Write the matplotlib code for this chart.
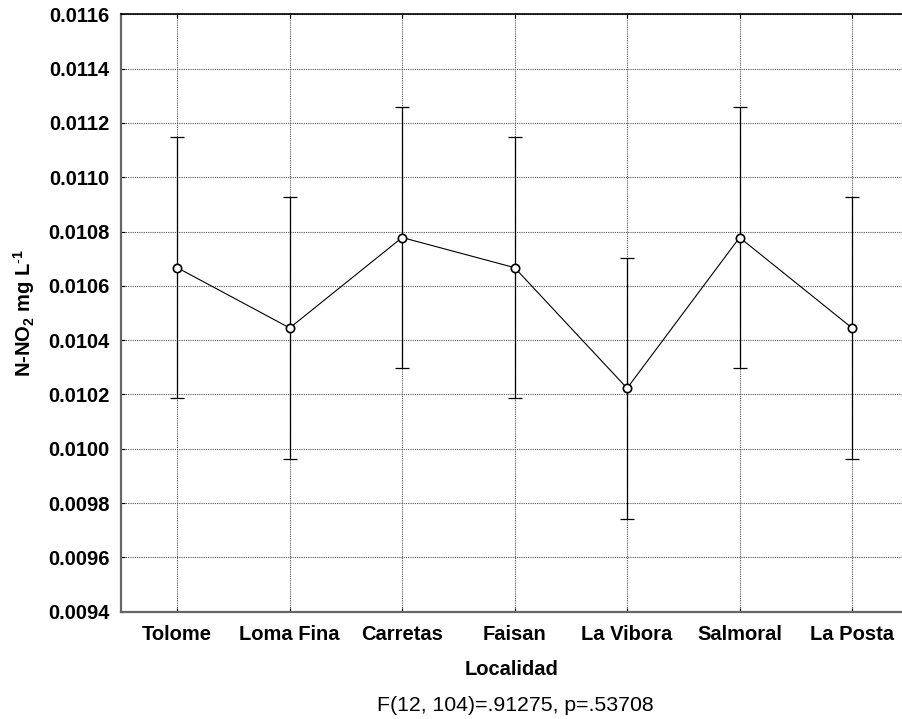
import matplotlib
matplotlib.use("Agg")
import matplotlib.pyplot as plt
import numpy as np

# Site means of N-NO2 and their confidence half-widths
localidades = ["Tolome", "Loma Fina", "Carretas", "Faisan", "La Vibora", "Salmoral", "La Posta"]
medias = [0.010667, 0.010445, 0.010778, 0.010667, 0.010223, 0.010778, 0.010445]
semi_intervalo = [0.000481, 0.000481, 0.000481, 0.000481, 0.000481, 0.000481, 0.000481]
yticks = [0.0094, 0.0096, 0.0098, 0.0100, 0.0102, 0.0104, 0.0106, 0.0108,
          0.0110, 0.0112, 0.0114, 0.0116]

plt.rcParams['font.family'] = ['Liberation Sans', 'DejaVu Sans']
plt.rcParams['mathtext.fontset'] = 'custom'
plt.rcParams['mathtext.bf'] = 'Liberation Sans:bold'
plt.rcParams['mathtext.rm'] = 'Liberation Sans'

fig = plt.figure(figsize=(9.02, 7.19), dpi=100)
ax = fig.add_axes([0.1341, 0.1492, 0.8659, 0.8309])

x = np.arange(len(localidades))
ax.errorbar(x, medias, yerr=semi_intervalo, fmt='none', ecolor='black',
            elinewidth=0.9, capsize=4.7, capthick=0.9, zorder=3)
ax.plot(x, medias, color='black', linewidth=0.8, marker='o', markersize=6,
        markerfacecolor='white', markeredgecolor='black', markeredgewidth=1.2,
        zorder=4)

ax.set_xlim(-0.5, 6.444)
ax.set_ylim(0.0094, 0.0116)
ax.set_yticks(yticks)
ax.set_yticklabels([f"{v:.4f}" for v in yticks], fontsize=14.5, fontweight='bold')
ax.set_xticks(x)
ax.set_xticklabels(localidades, fontsize=14.5, fontweight='bold')

ax.grid(True, linestyle=(0, (1, 1)), color='#555555', linewidth=0.8)
ax.set_axisbelow(True)
ax.tick_params(axis='both', direction='in', length=3, width=0.8, top=True,
               right=False)
ax.tick_params(axis='y', pad=8)
ax.tick_params(axis='x', pad=9.5)

ax.spines['right'].set_visible(False)
ax.spines['top'].set_color('black')
ax.spines['top'].set_linewidth(1.2)
for s in ('left', 'bottom'):
    ax.spines[s].set_color('#666666')
    ax.spines[s].set_linewidth(1.6)

ax.set_xlabel("Localidad", fontsize=14.5, fontweight='bold', labelpad=11.5)
ax.set_ylabel(r"N-NO$_\mathbf{2}$ mg L$^\mathbf{\text{-}1}$", fontsize=14.5,
              fontweight='bold')
ax.yaxis.set_label_coords(-0.108, 0.5)

fig.text(0.571, 0.019, "F(12, 104)=.91275, p=.53708", fontsize=15.3,
         ha='center', va='center')

fig.savefig("out.png", dpi=100)
